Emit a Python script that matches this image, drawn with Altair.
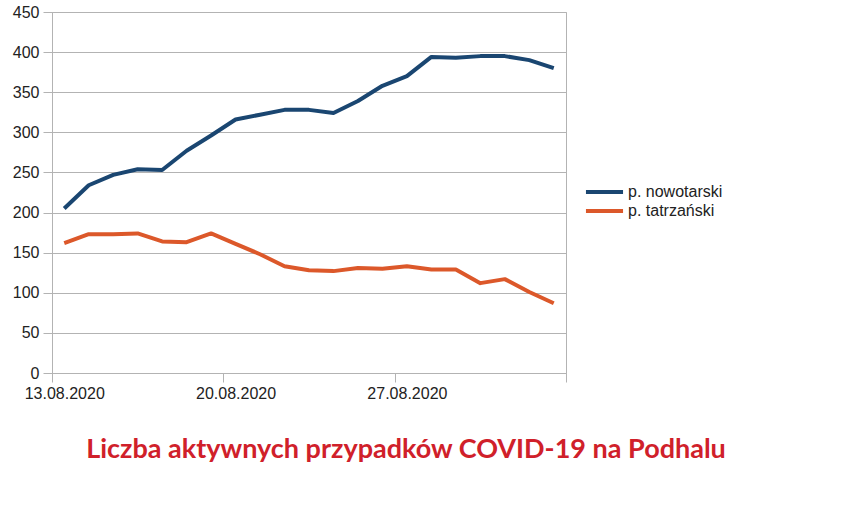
import altair as alt
import pandas as pd

dates = ["13.08.2020", "14.08.2020", "15.08.2020", "16.08.2020", "17.08.2020",
         "18.08.2020", "19.08.2020", "20.08.2020", "21.08.2020", "22.08.2020",
         "23.08.2020", "24.08.2020", "25.08.2020", "26.08.2020", "27.08.2020",
         "28.08.2020", "29.08.2020", "30.08.2020", "31.08.2020", "01.09.2020",
         "02.09.2020"]
nowotarski = [205, 234, 247, 254, 253, 277, 296, 316, 322, 328, 328, 324, 339,
              358, 370, 394, 393, 395, 395, 390, 380]
tatrzanski = [162, 173, 173, 174, 164, 163, 174, 161, 148, 133, 128, 127, 131,
              130, 133, 129, 129, 112, 117, 101, 87]
series_names = ["p. nowotarski", "p. tatrzański"]
series_colors = ["#1a4671", "#dc582a"]
labeled_dates = ["13.08.2020", "20.08.2020", "27.08.2020"]
title_text = "Liczba aktywnych przypadków COVID-19 na Podhalu"

rows = []
for i, d in enumerate(dates):
    rows.append({"day": i, "date": d, "series": series_names[0], "value": nowotarski[i]})
    rows.append({"day": i, "date": d, "series": series_names[1], "value": tatrzanski[i]})
df = pd.DataFrame(rows)

n = len(dates)
# tick at the start of each labelled day's band, plus the end of the last band
tick_vals = [dates.index(d) - 0.5 for d in labeled_dates] + [n - 0.5]
label_expr = " : ".join(
    f"abs(datum.value - ({dates.index(d) - 0.5})) < 0.01 ? '{d}'" for d in labeled_dates
) + " : ''"

W, H = 514, 361
LEFT, TOP = 52, 12
FONT = "Liberation Sans"

chart = alt.Chart(df).mark_line(strokeWidth=4, strokeJoin="round").encode(
    x=alt.X("day:Q",
            scale=alt.Scale(domain=[-0.5, n - 0.5], nice=False, zero=False),
            axis=alt.Axis(values=tick_vals, labelExpr=label_expr, title=None,
                          grid=False, labelOffset=W / n / 2, labelFlush=False,
                          labelOverlap=False, labelBound=False,
                          tickSize=9, labelPadding=3)),
    y=alt.Y("value:Q",
            scale=alt.Scale(domain=[0, 450], nice=False),
            axis=alt.Axis(values=list(range(0, 451, 50)), title=None,
                          tickSize=9, labelPadding=4)),
    color=alt.Color("series:N",
                    scale=alt.Scale(domain=series_names, range=series_colors),
                    legend=alt.Legend(title=None, orient="none",
                                      legendX=541.5, legendY=169,
                                      symbolType="M-2.06,0H2.06",
                                      symbolSize=324, symbolStrokeWidth=4,
                                      labelOffset=12.5, rowPadding=0,
                                      padding=0, labelFontSize=16,
                                      labelFont=FONT, labelColor="#222222")),
).properties(
    width=W, height=H,
    autosize=alt.AutoSizeParams(type="none"),
    padding={"left": LEFT, "top": TOP, "right": 843 - LEFT - W, "bottom": 509 - TOP - H},
    title=alt.Title(title_text, orient="bottom", anchor="middle", frame="group",
                    offset=36, dx=97, font="Lato", fontSize=27, fontWeight="bold",
                    color="#d0202a", baseline="top"),
).configure_view(
    stroke="#b3b3b3", strokeWidth=1
).configure_axis(
    labelFont=FONT, labelFontSize=16, labelColor="#222222",
    domainColor="#b3b3b3", tickColor="#b3b3b3", gridColor="#b3b3b3",
    domainWidth=1, tickWidth=1, gridWidth=1,
)

chart.save("out.html", embed_options={"renderer": "svg", "actions": False})
